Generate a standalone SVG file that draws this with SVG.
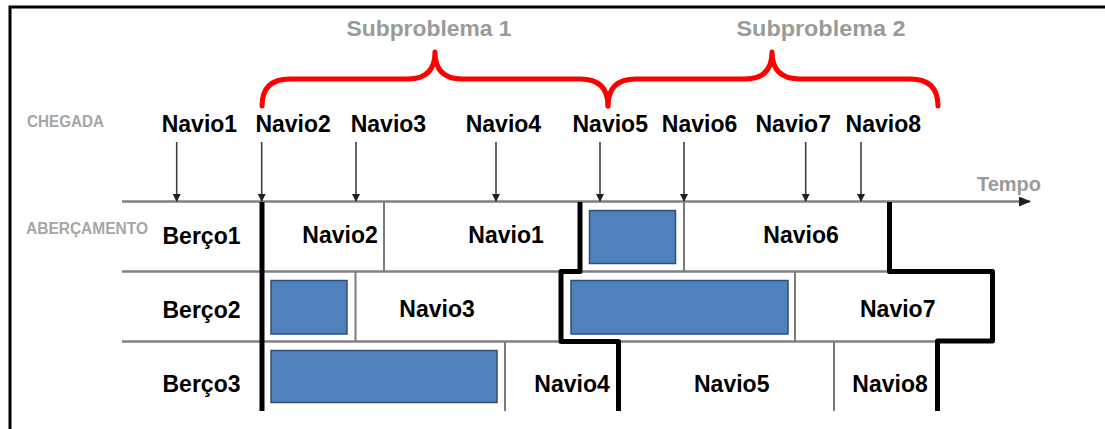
<svg xmlns="http://www.w3.org/2000/svg" width="1105" height="429" viewBox="0 0 1105 429">
<defs>
<style>
.lbl{font-family:"Liberation Sans",Arial,sans-serif;font-weight:bold;font-size:23px;fill:#000}
.gray{font-family:"Liberation Sans",Arial,sans-serif;font-weight:bold;fill:#9a9a9a}
.small{font-family:"Liberation Sans",Arial,sans-serif;font-weight:bold;font-size:16px;fill:#a6a6a6}
.grid{stroke:#808080;stroke-width:2.5;fill:none}
.sep{stroke:#7a7a7a;stroke-width:2;fill:none}
.bound{stroke:#000;stroke-width:5;fill:none;stroke-linejoin:round}
.arr{stroke:#404040;stroke-width:1.6;fill:none;marker-end:url(#ah)}
.brace{stroke:#ff0000;stroke-width:5;fill:none;stroke-linecap:round;stroke-linejoin:round}
.job{fill:#4f81bd;stroke:#2f4f75;stroke-width:1.5}
</style>
<marker id="ah" markerWidth="8" markerHeight="8" refX="7" refY="4" orient="auto" markerUnits="userSpaceOnUse">
<path d="M0,0 L8,4 L0,8 Z" fill="#202020"/>
</marker>
<marker id="axh" markerWidth="12" markerHeight="10" refX="11" refY="5" orient="auto" markerUnits="userSpaceOnUse">
<path d="M0,0 L12,5 L0,10 Z" fill="#202020"/>
</marker>
</defs>
<rect width="1105" height="429" fill="#fff"/>
<path d="M10,429 V7 H1105" stroke="#000" stroke-width="3" fill="none"/>

<g id="headers">
<text class="gray" x="346.5" y="36" font-size="22.5" textLength="165" lengthAdjust="spacingAndGlyphs">Subproblema 1</text>
<text class="gray" x="736.5" y="36" font-size="22.5" textLength="169" lengthAdjust="spacingAndGlyphs">Subproblema 2</text>
<text class="small" x="27" y="127" textLength="77" lengthAdjust="spacingAndGlyphs">CHEGADA</text>
<text class="small" x="26" y="234" textLength="122" lengthAdjust="spacingAndGlyphs">ABERÇAMENTO</text>
<text class="gray" x="977" y="191" font-size="19.5" textLength="64" lengthAdjust="spacingAndGlyphs">Tempo</text>
</g>

<g id="braces">
<path class="brace" d="M262,106 Q262,79 290,79 L408,79 Q435,79 435,52 Q435,79 462,79 L580,79 Q608,79 608,106"/>
<path class="brace" d="M608,106 Q608,79 636,79 L745,79 Q772,79 772,52 Q772,79 800,79 L910,79 Q938,79 938,106"/>
</g>

<g id="arrivals">
<text class="lbl" x="161.7" y="132">Navio1</text>
<text class="lbl" x="255.4" y="132">Navio2</text>
<text class="lbl" x="350.7" y="132">Navio3</text>
<text class="lbl" x="465.7" y="132">Navio4</text>
<text class="lbl" x="572.5" y="132">Navio5</text>
<text class="lbl" x="661.8" y="132">Navio6</text>
<text class="lbl" x="755.5" y="132">Navio7</text>
<text class="lbl" x="845.6" y="132">Navio8</text>
</g>

<g id="grid">
<line class="grid" x1="122" y1="201.5" x2="1030" y2="201.5" marker-end="url(#axh)"/>
<line class="grid" x1="122" y1="271.5" x2="993" y2="271.5"/>
<line class="grid" x1="122" y1="341.5" x2="993" y2="341.5"/>
<line class="sep" x1="384" y1="202" x2="384" y2="271"/>
<line class="sep" x1="684" y1="202" x2="684" y2="271"/>
<line class="sep" x1="355.5" y1="272" x2="355.5" y2="341"/>
<line class="sep" x1="795" y1="272" x2="795" y2="341"/>
<line class="sep" x1="505" y1="342" x2="505" y2="411"/>
<line class="sep" x1="834" y1="342" x2="834" y2="411"/>
</g>

<g id="connectors">
<line class="arr" x1="176.7" y1="142" x2="176.7" y2="201"/>
<line class="arr" x1="261.7" y1="142" x2="261.7" y2="201"/>
<line class="arr" x1="356" y1="142" x2="356" y2="201"/>
<line class="arr" x1="496" y1="142" x2="496" y2="201"/>
<line class="arr" x1="600" y1="142" x2="600" y2="201"/>
<line class="arr" x1="684" y1="142" x2="684" y2="201"/>
<line class="arr" x1="805.7" y1="142" x2="805.7" y2="201"/>
<line class="arr" x1="861" y1="142" x2="861" y2="201"/>
</g>

<g id="jobs">
<rect class="job" x="589.5" y="210.5" width="86" height="53"/>
<rect class="job" x="271" y="280.5" width="76" height="53.5"/>
<rect class="job" x="571" y="280.5" width="217" height="53.5"/>
<rect class="job" x="271" y="350.5" width="226" height="52"/>
</g>

<g id="boundaries">
<path class="bound" d="M262,202 V411"/>
<path class="bound" d="M580,202 V271.5 H561 V341.5 H618.5 V411"/>
<path class="bound" d="M889.5,202 V271.5 H992.5 V341 H937.5 V411"/>
</g>

<g id="berths">
<text class="lbl" x="162.5" y="244">Berço1</text>
<text class="lbl" x="162.5" y="318">Berço2</text>
<text class="lbl" x="162.5" y="392">Berço3</text>
</g>

<g id="assignments">
<text class="lbl" x="302.3" y="243">Navio2</text>
<text class="lbl" x="468.3" y="243">Navio1</text>
<text class="lbl" x="763.3" y="243">Navio6</text>
<text class="lbl" x="399.3" y="317">Navio3</text>
<text class="lbl" x="860" y="317">Navio7</text>
<text class="lbl" x="534.3" y="392">Navio4</text>
<text class="lbl" x="694" y="392">Navio5</text>
<text class="lbl" x="852.3" y="392">Navio8</text>
</g>
</svg>
